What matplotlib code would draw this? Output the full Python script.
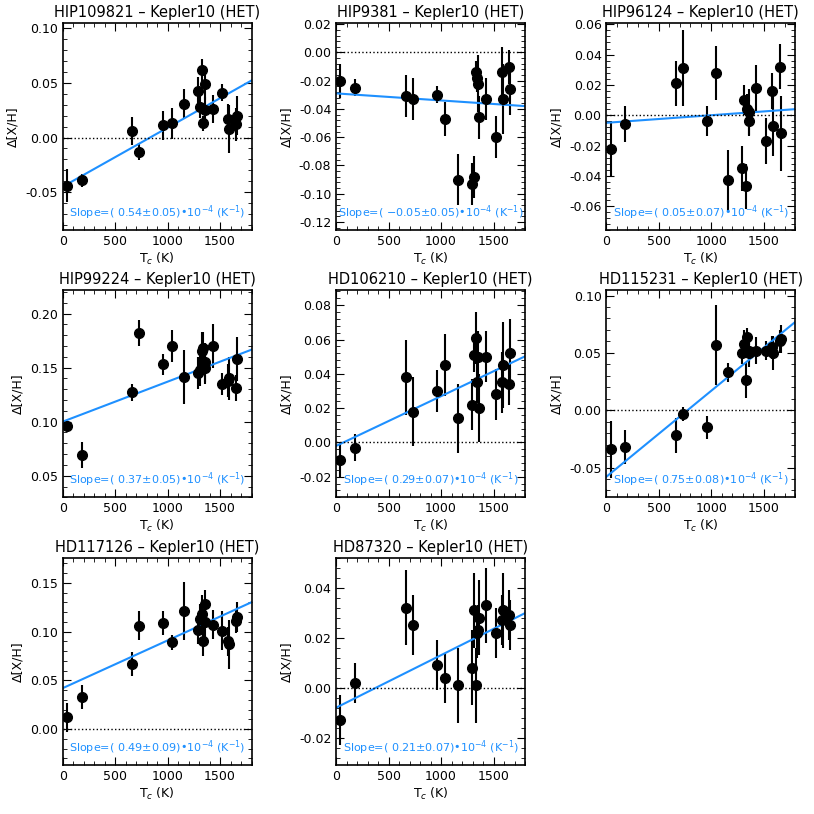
import matplotlib
matplotlib.use("Agg")
import matplotlib.pyplot as plt
import numpy as np
from matplotlib.ticker import MultipleLocator, FormatStrFormatter

tc = [40, 180, 665, 730, 960, 1040, 1160, 1290, 1310, 1330, 1340, 1355, 1360, 1430, 1520, 1580, 1590, 1650, 1660]

titles = ["HIP109821 – Kepler10 (HET)", "HIP9381 – Kepler10 (HET)", "HIP96124 – Kepler10 (HET)",
          "HIP99224 – Kepler10 (HET)", "HD106210 – Kepler10 (HET)", "HD115231 – Kepler10 (HET)",
          "HD117126 – Kepler10 (HET)", "HD87320 – Kepler10 (HET)"]

d1 = [-0.044, -0.039, 0.006, -0.013, 0.011, 0.013, 0.031, 0.043, 0.028, 0.062, 0.013, 0.049, 0.025, 0.026, 0.041, 0.017, 0.008, 0.012, 0.020]
d2 = [-0.020, -0.025, -0.031, -0.033, -0.030, -0.047, -0.090, -0.093, -0.088, -0.014, -0.018, -0.022, -0.046, -0.033, -0.060, -0.014, -0.033, -0.010, -0.026]
d3 = [-0.022, -0.006, 0.021, 0.031, -0.004, 0.028, -0.043, -0.035, 0.010, -0.047, 0.004, -0.004, 0.002, 0.018, -0.017, 0.016, -0.007, 0.032, -0.012]
d4 = [0.096, 0.069, 0.127, 0.182, 0.153, 0.170, 0.141, 0.145, 0.148, 0.165, 0.168, 0.150, 0.155, 0.170, 0.135, 0.138, 0.140, 0.131, 0.158]
d5 = [-0.010, -0.003, 0.038, 0.018, 0.030, 0.045, 0.014, 0.022, 0.051, 0.061, 0.035, 0.050, 0.020, 0.050, 0.028, 0.035, 0.045, 0.034, 0.052]
d6 = [-0.034, -0.032, -0.022, -0.003, -0.015, 0.057, 0.033, 0.050, 0.058, 0.026, 0.064, 0.052, 0.050, 0.052, 0.052, 0.055, 0.050, 0.060, 0.062]
d7 = [0.012, 0.033, 0.067, 0.106, 0.109, 0.089, 0.121, 0.102, 0.113, 0.118, 0.090, 0.128, 0.110, 0.107, 0.101, 0.090, 0.087, 0.111, 0.115]
d8 = [-0.013, 0.002, 0.032, 0.025, 0.009, 0.004, 0.001, 0.008, 0.031, 0.001, 0.022, 0.023, 0.028, 0.033, 0.022, 0.027, 0.031, 0.029, 0.025]

e1 = [0.015, 0.006, 0.013, 0.008, 0.013, 0.014, 0.013, 0.012, 0.010, 0.010, 0.007, 0.015, 0.012, 0.013, 0.008, 0.014, 0.022, 0.015, 0.018]
e2 = [0.012, 0.006, 0.015, 0.015, 0.006, 0.012, 0.018, 0.015, 0.015, 0.008, 0.010, 0.020, 0.015, 0.015, 0.015, 0.018, 0.025, 0.012, 0.018]
e3 = [0.018, 0.012, 0.015, 0.025, 0.010, 0.018, 0.020, 0.015, 0.010, 0.015, 0.010, 0.010, 0.015, 0.015, 0.015, 0.012, 0.020, 0.015, 0.025]
e4 = [0.004, 0.012, 0.008, 0.012, 0.010, 0.015, 0.025, 0.015, 0.015, 0.018, 0.015, 0.015, 0.018, 0.020, 0.010, 0.015, 0.020, 0.012, 0.020]
e5 = [0.010, 0.008, 0.022, 0.020, 0.012, 0.018, 0.020, 0.015, 0.010, 0.015, 0.012, 0.015, 0.020, 0.015, 0.015, 0.018, 0.025, 0.012, 0.020]
e6 = [0.025, 0.015, 0.015, 0.006, 0.010, 0.035, 0.008, 0.010, 0.012, 0.015, 0.008, 0.010, 0.012, 0.012, 0.008, 0.010, 0.015, 0.010, 0.012]
e7 = [0.015, 0.012, 0.012, 0.015, 0.012, 0.008, 0.030, 0.015, 0.015, 0.020, 0.015, 0.015, 0.018, 0.015, 0.020, 0.015, 0.025, 0.012, 0.015]
e8 = [0.010, 0.008, 0.015, 0.012, 0.010, 0.010, 0.015, 0.015, 0.015, 0.015, 0.010, 0.010, 0.015, 0.015, 0.010, 0.010, 0.015, 0.010, 0.010]

slopes = ["0.54±0.05", "−0.05±0.05", "0.05±0.07", "0.37±0.05", "0.29±0.07", "0.75±0.08", "0.49±0.09", "0.21±0.07"]
slope_vals = [0.54, -0.05, 0.05, 0.37, 0.29, 0.75, 0.49, 0.21]
intercepts = [-0.045, -0.029, -0.005, 0.100, -0.002, -0.058, 0.042, -0.008]

ylims = [(-0.085, 0.105), (-0.126, 0.021), (-0.076, 0.061), (0.03, 0.222), (-0.032, 0.089), (-0.076, 0.105), (-0.037, 0.176), (-0.031, 0.052)]
ymaj = [0.05, 0.02, 0.02, 0.05, 0.02, 0.05, 0.05, 0.02]

data = [d1, d2, d3, d4, d5, d6, d7, d8]
errs = [e1, e2, e3, e4, e5, e6, e7, e8]

fig = plt.figure(figsize=(8.14, 8.14), dpi=100)
lefts = [0.077, 0.413, 0.745]
bottoms = [0.717, 0.389, 0.060]
w, h = 0.232, 0.255
blue = "#1e90ff"
for i in range(8):
    r, c = divmod(i, 3)
    ax = fig.add_axes([lefts[c], bottoms[r], w, h])
    ax.errorbar(tc, data[i], yerr=errs[i], fmt='o', color='black', ms=7, elinewidth=1.5, capsize=0)
    xx = np.array([0, 1800])
    ax.plot(xx, intercepts[i] + slope_vals[i] * 1e-4 * xx, color=blue, lw=1.5)
    ax.axhline(0, color='black', ls=':', lw=1)
    ax.set_xlim(0, 1800)
    ax.set_ylim(*ylims[i])
    ax.xaxis.set_major_locator(MultipleLocator(500))
    ax.xaxis.set_minor_locator(MultipleLocator(100))
    ax.yaxis.set_major_locator(MultipleLocator(ymaj[i]))
    ax.yaxis.set_minor_locator(MultipleLocator(ymaj[i] / 5))
    ax.yaxis.set_major_formatter(FormatStrFormatter('%.2f'))
    ax.tick_params(which='both', direction='in', top=True, right=True, labelsize=9)
    ax.tick_params(which='major', length=6)
    ax.tick_params(which='minor', length=3)
    for s in ax.spines.values():
        s.set_linewidth(1.2)
    ax.set_title(titles[i], fontsize=10.5, pad=4)
    ax.set_xlabel("T$_c$ (K)", fontsize=9, labelpad=2)
    ax.set_ylabel("Δ[X/H]", fontsize=9)
    ax.text(0.5, 0.04, "Slope=( %s)•10$^{-4}$ (K$^{-1}$)" % slopes[i], transform=ax.transAxes,
            ha='center', va='bottom', color=blue, fontsize=8)

fig.savefig("out.png", dpi=100)
